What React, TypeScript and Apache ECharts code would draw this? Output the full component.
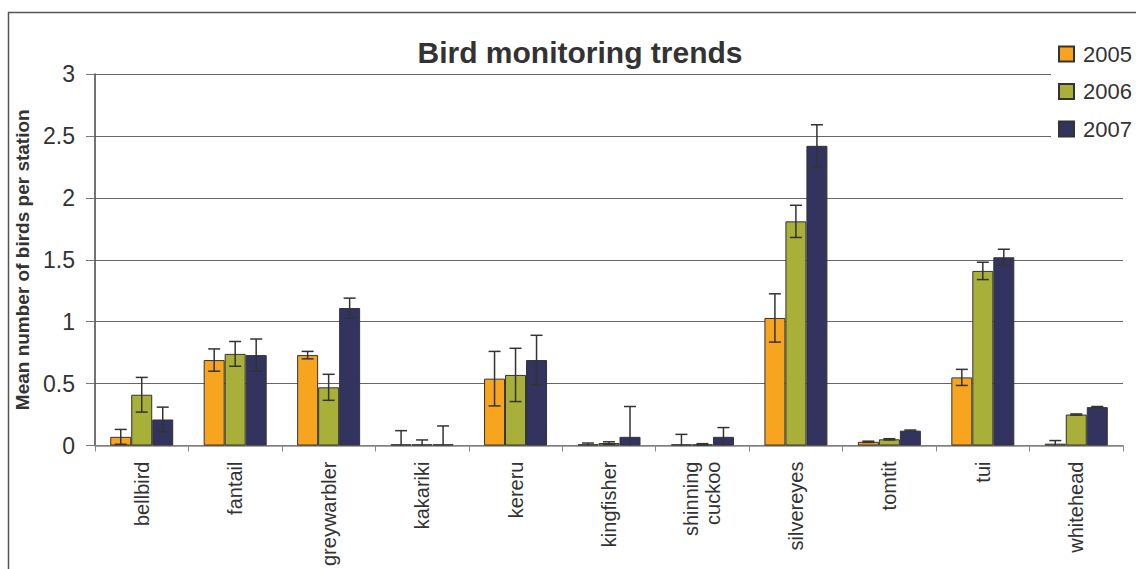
import React, { useEffect, useRef } from "react";
import * as echarts from "echarts";

const categories = [
  "bellbird",
  "fantail",
  "greywarbler",
  "kakariki",
  "kereru",
  "kingfisher",
  "shinning\ncuckoo",
  "silvereyes",
  "tomtit",
  "tui",
  "whitehead",
];
const years = ["2005", "2006", "2007"];
const values2005 = [0.07, 0.69, 0.73, 0.01, 0.54, 0.01, 0.01, 1.03, 0.03, 0.55, 0.015];
const errors2005 = [0.06, 0.09, 0.03, 0.11, 0.22, 0.01, 0.08, 0.195, 0.005, 0.065, 0.025];
const values2006 = [0.41, 0.74, 0.47, 0.01, 0.57, 0.02, 0.01, 1.81, 0.05, 1.41, 0.25];
const errors2006 = [0.14, 0.1, 0.105, 0.035, 0.215, 0.01, 0.005, 0.13, 0.005, 0.07, 0.005];
const values2007 = [0.21, 0.73, 1.11, 0.01, 0.69, 0.07, 0.07, 2.42, 0.12, 1.52, 0.31];
const errors2007 = [0.1, 0.13, 0.08, 0.148, 0.2, 0.245, 0.075, 0.17, 0.005, 0.065, 0.005];
const yTicks = [0, 0.5, 1, 1.5, 2, 2.5, 3];

const colors = ["#F7A51E", "#A8B03A", "#32335F"];
const BAR_W = 21;
const FONT = "'Liberation Sans', Arial, sans-serif";

export default function App() {
  const ref = useRef<HTMLDivElement>(null);
  useEffect(() => {
    if (!ref.current) return;
    const chart = echarts.init(ref.current, undefined, { renderer: "svg" });
    const allValues = [values2005, values2006, values2007];
    const allErrors = [errors2005, errors2006, errors2007];

    const barSeries = years.map((y, i) => ({
      name: y,
      type: "bar",
      data: allValues[i],
      barWidth: BAR_W,
      barGap: "0%",
      itemStyle: { color: colors[i], borderColor: "#333", borderWidth: 1 },
      z: 2,
    }));

    const errSeries = years.map((y, s) => ({
      name: "err" + y,
      type: "custom",
      z: 5,
      data: allValues[s].map((v, i) => [i, v, allErrors[s][i]]),
      renderItem: (params: any, api: any) => {
        const ci = api.value(0);
        const v = api.value(1);
        const e = api.value(2);
        const hi = api.coord([ci, v + e]);
        const lo = api.coord([ci, Math.max(0, v - e)]);
        const x = hi[0] + (s - 1) * BAR_W;
        const cap = 6;
        const style = { stroke: "#333", lineWidth: 1.5 };
        const children: any[] = [
          { type: "line", shape: { x1: x, y1: hi[1], x2: x, y2: lo[1] }, style },
          { type: "line", shape: { x1: x - cap, y1: hi[1], x2: x + cap, y2: hi[1] }, style },
        ];
        if (v - e > 0) {
          children.push({ type: "line", shape: { x1: x - cap, y1: lo[1], x2: x + cap, y2: lo[1] }, style });
        }
        return { type: "group", children };
      },
      encode: { x: 0, y: 1 },
      silent: true,
    }));

    chart.setOption({
      animation: false,
      backgroundColor: "#fff",
      title: {
        text: "Bird monitoring trends",
        left: 575,
        textAlign: "center",
        top: 32,
        textStyle: { fontFamily: FONT, fontSize: 30, fontWeight: "bold", color: "#333" },
      },
      legend: {
        data: years,
        orient: "vertical",
        left: 1051,
        top: 23,
        padding: [20, 40, 10, 7],
        backgroundColor: "#fff",
        itemWidth: 15,
        itemHeight: 15,
        itemGap: 15.5,
        icon: "rect",
        textStyle: { fontFamily: FONT, fontSize: 22, color: "#333", lineHeight: 22, padding: [0, 0, 0, 4] },
        z: 10,
      },
      grid: { left: 95, right: 13, top: 74, bottom: 122, containLabel: false },
      xAxis: {
        type: "category",
        data: categories,
        axisLine: { lineStyle: { color: "#888", width: 1.5 } },
        axisTick: { show: true, alignWithLabel: false, length: 6, lineStyle: { color: "#888" } },
        axisLabel: {
          rotate: 90,
          interval: 0,
          margin: 16,
          fontFamily: FONT,
          fontSize: 20,
          color: "#333",
          lineHeight: 22,
        },
      },
      yAxis: {
        type: "value",
        min: yTicks[0],
        max: yTicks[yTicks.length - 1],
        interval: 0.5,
        name: "Mean number of birds per station",
        nameLocation: "middle",
        nameGap: 60,
        nameTextStyle: { fontFamily: FONT, fontSize: 19, fontWeight: "bold", color: "#333" },
        axisLine: { show: true, lineStyle: { color: "#444", width: 1.5 } },
        axisTick: { show: true, length: 9, lineStyle: { color: "#777" } },
        axisLabel: {
          fontFamily: FONT,
          fontSize: 23,
          color: "#333",
          margin: 20,
          formatter: (v: number) => String(v),
        },
        splitLine: { show: true, lineStyle: { color: "#666", width: 1 } },
      },
      series: [...barSeries, ...errSeries],
      graphic: [
        {
          type: "rect",
          shape: { x: 8.5, y: 12.5, width: 1300, height: 800 },
          style: { fill: "none", stroke: "#555", lineWidth: 1.5 },
          z: 100,
          silent: true,
        },
      ],
    });
    return () => chart.dispose();
  }, []);
  return (
    <div
      ref={ref}
      style={{ position: "fixed", left: 0, top: 0, width: 1136, height: 569 }}
    />
  );
}
